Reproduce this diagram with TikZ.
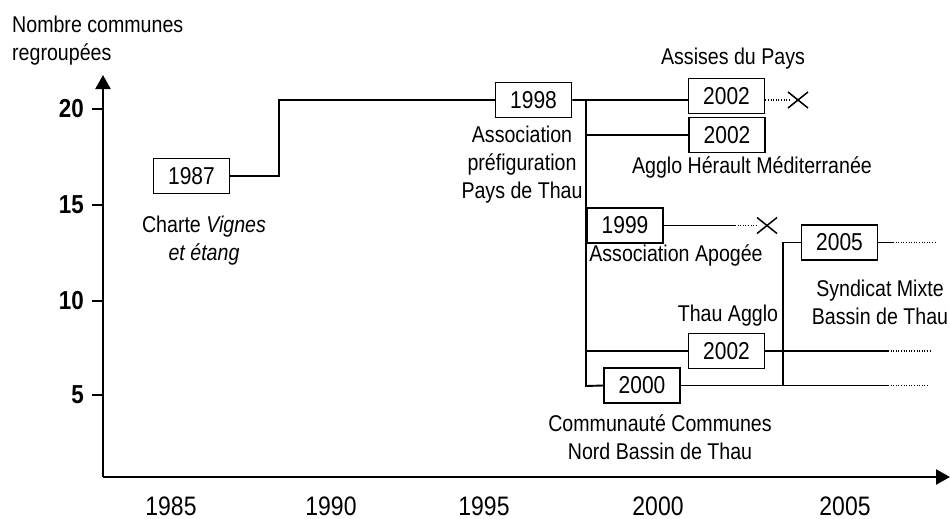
\documentclass[tikz,border=0pt]{standalone}
\usepackage{fontspec}
\setmainfont{Liberation Sans}[FakeStretch=0.86]
\usetikzlibrary{arrows.meta}
\tikzset{
  yearbox/.style={draw, line width=1.9pt, minimum width=76pt, minimum height=35pt, inner sep=0pt, font=\fontsize{24.4}{28}\selectfont},
  lbl/.style={inner sep=0pt, align=center, font=\fontsize{22.8}{28}\selectfont},
  ticklbl/.style={inner sep=0pt, font=\fontsize{26.7}{30}\selectfont},
  ylbl/.style={inner sep=0pt, anchor=east, font=\fontsize{26}{30}\selectfont\bfseries},
  conn/.style={line width=1.9pt},
  axis/.style={line width=2.2pt, -{Triangle[length=14pt,width=15pt]}},
  dots/.style={line width=1.2pt, dash pattern=on 1pt off 1.6pt},
  cross/.style={line width=1.5pt}
}
\begin{document}
\begin{tikzpicture}[x=1pt,y=-1pt]
\useasboundingbox (0,0) rectangle (950,519);
% axes
\coordinate (O) at (103,477);
\coordinate (ytop) at (103,75);
\coordinate (xend) at (950,477);
\draw[axis] (O) -- (ytop);
\draw[axis] (O) -- (xend);
\node[lbl, anchor=west, align=left] (ytitle) at (12,40.5) {Nombre communes\\regroupées};
% y ticks
\foreach \v/\yy in {20/109,15/205,10/301,5/395}{
  \draw[line width=2.2pt] (92,\yy) -- (103,\yy);
  \node[ylbl] (y\v) at (84,\yy) {\v};
}
% x tick labels
\node[ticklbl] (x1985) at (171,506) {1985};
\node[ticklbl] (x1990) at (331,506) {1990};
\node[ticklbl] (x1995) at (484,506) {1995};
\node[ticklbl] (x2000) at (658,506) {2000};
\node[ticklbl] (x2005) at (845,506) {2005};
% boxes
\node[yearbox] (b1987) at (191.5,176) {1987};
\node[yearbox] (b1998) at (533.5,100) {1998};
\node[yearbox] (b2002a) at (726.5,96) {2002};
\node[yearbox] (b2002b) at (727,135) {2002};
\node[yearbox] (b1999) at (625,225.5) {1999};
\node[yearbox] (b2005) at (839.5,242.5) {2005};
\node[yearbox] (b2002c) at (726.5,351) {2002};
\node[yearbox] (b2000) at (642,385.5) {2000};
% labels
\node[lbl] (l1987) at (204,241) {Charte \textit{Vignes}\\\textit{et étang}};
\node[lbl] (l1998) at (522,164.5) {Association\\préfiguration\\Pays de Thau};
\node[lbl] (lassises) at (733,59) {Assises du Pays};
\node[lbl] (lagglo) at (752,167) {Agglo Hérault Méditerranée};
\node[lbl] (lapogee) at (676,255) {Association Apogée};
\node[lbl] (lsyndicat) at (880,302) {Syndicat Mixte\\Bassin de Thau};
\node[lbl] (lthau) at (728,316) {Thau Agglo};
\node[lbl] (lccnbt) at (660,437) {Communauté Communes\\Nord Bassin de Thau};
% connectors
\coordinate (k1) at (279,176);
\coordinate (k2) at (279,100);
\draw[conn] (b1987.east) -- (k1) -- (k2) -- (b1998.west);
\coordinate (tt) at (586,100);
\coordinate (tb) at (586,386);
\draw[conn] (b1998.east) -- (tt) -- (tb) -- (b2000.west);
\draw[conn] (tt) -- (tt -| b2002a.west);
\coordinate (j2) at (586,135);
\draw[conn] (j2) -- (b2002b.west);
\coordinate (j3) at (586,351);
\draw[conn] (j3) -- (b2002c.west);
% 2002a end
\coordinate (ae) at (790,100);
\coordinate (ax) at (798,100);
\draw[dots] (tt -| b2002a.east) -- (ae);
\draw[cross] ([shift={(-10,-8)}]ax) -- ([shift={(10,8)}]ax);
\draw[cross] ([shift={(-10,8)}]ax) -- ([shift={(10,-8)}]ax);
% 1999
\coordinate (s1) at (735,225.5);
\coordinate (s2) at (758,225.5);
\coordinate (sx) at (767,225.5);
\draw[conn] (b1999.east) -- (s1);
\draw[dots] (s1) -- (s2);
\draw[cross] ([shift={(-10,-8)}]sx) -- ([shift={(10,8)}]sx);
\draw[cross] ([shift={(-10,8)}]sx) -- ([shift={(10,-8)}]sx);
% 2002c
\coordinate (c1) at (888,351);
\coordinate (c2) at (930,351);
\draw[conn] (b2002c.east) -- (c1);
\draw[dots] (c1) -- (c2);
% 2000
\coordinate (d1) at (888,385.5);
\coordinate (d2) at (928,385.5);
\draw[conn] (b2000.east) -- (d1);
\draw[dots] (d1) -- (d2);
% 2005
\coordinate (e0) at (783,385.5);
\coordinate (e1) at (783,242.5);
\draw[conn] (e0) -- (e1) -- (b2005.west);
\coordinate (f1) at (893,242.5);
\coordinate (f2) at (935,242.5);
\draw[conn] (b2005.east) -- (f1);
\draw[dots] (f1) -- (f2);
\end{tikzpicture}
\end{document}
